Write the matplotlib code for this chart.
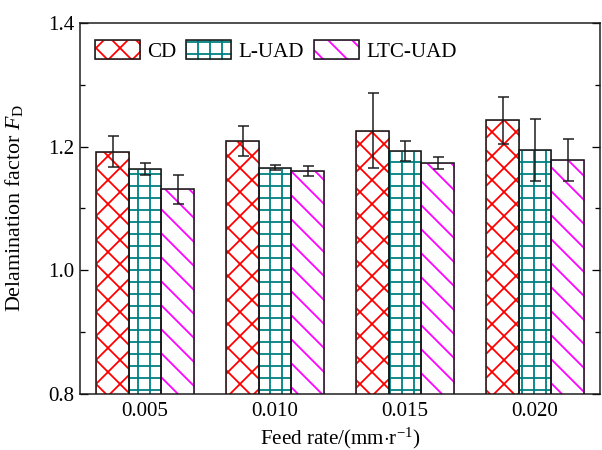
"""
Delamination factor vs feed rate for CD, L-UAD and LTC-UAD drilling.
"""

import matplotlib

matplotlib.use("Agg")

import matplotlib.pyplot as plt
import numpy as np
from matplotlib.legend_handler import HandlerTuple
from matplotlib.patches import Patch
from matplotlib.ticker import MultipleLocator

feed_rates = ["0.005", "0.010", "0.015", "0.020"]
methods = ["CD", "L-UAD", "LTC-UAD"]

cd_mean = [1.192, 1.209, 1.226, 1.243]
cd_err = [0.025, 0.024, 0.061, 0.038]
luad_mean = [1.164, 1.166, 1.193, 1.194]
luad_err = [0.010, 0.004, 0.016, 0.050]
ltc_mean = [1.131, 1.161, 1.174, 1.178]
ltc_err = [0.023, 0.008, 0.010, 0.034]

plt.rcParams["font.family"] = ["Liberation Serif", "DejaVu Serif"]
plt.rcParams["mathtext.fontset"] = "custom"
plt.rcParams["mathtext.rm"] = "Liberation Serif"
plt.rcParams["mathtext.it"] = "Liberation Serif:italic"
plt.rcParams["hatch.linewidth"] = 1.8

FS = 21
DPI = 72  # hatch tile is one inch, 72 px gives ~12 px spacing like the reference
fig = plt.figure(figsize=(602 / DPI, 450 / DPI), dpi=DPI)
ax = fig.add_axes([80 / 602, 56 / 450, 520 / 602, 371 / 450])

series = [
    (cd_mean, cd_err, "#ff0000", "x"),
    (luad_mean, luad_err, "#008080", "+"),
    (ltc_mean, ltc_err, "#ff00ff", "\\"),
]
width = 0.25
x = np.arange(len(feed_rates))
handles = []
for k, (mean, err, color, hatch) in enumerate(series):
    pos = x + (k - 1) * width
    ax.bar(pos, mean, width, color="white", edgecolor=color, hatch=hatch, linewidth=0.5, zorder=2)
    ax.bar(pos, mean, width, fill=False, edgecolor="#1a1a1a", linewidth=1.6, zorder=3)
    ax.errorbar(pos, mean, yerr=err, fmt="none", ecolor="#1a1a1a", elinewidth=1.5,
                capsize=5.5, capthick=1.5, zorder=4)
    handles.append((Patch(facecolor="white", edgecolor=color, hatch=hatch, linewidth=0.5),
                    Patch(fill=False, edgecolor="#1a1a1a", linewidth=1.6)))

ax.legend(handles, methods, handler_map={tuple: HandlerTuple(ndivide=1, pad=0)},
          loc="upper left", bbox_to_anchor=(15 / 520, 1 - 17 / 371), borderaxespad=0,
          borderpad=0, frameon=False, ncol=3, fontsize=FS, handlelength=2.15,
          handleheight=1.05, handletextpad=0.35, columnspacing=0.45)

ax.set_xlim(-0.5, 3.5)
ax.set_ylim(0.8, 1.4)
ax.set_xticks(x)
ax.set_xticklabels(feed_rates)
ax.tick_params(axis="x", length=0, labelsize=FS, pad=8)
ax.yaxis.set_major_locator(MultipleLocator(0.2))
ax.yaxis.set_minor_locator(MultipleLocator(0.1))
ax.yaxis.set_major_formatter(lambda v, p: f"{v:.1f}")
ax.tick_params(axis="y", which="both", direction="in", right=True, labelsize=FS, width=1.3, pad=6)
ax.tick_params(axis="y", which="major", length=8)
ax.tick_params(axis="y", which="minor", length=5)
for s in ax.spines.values():
    s.set_linewidth(1.5)
    s.set_color("#1a1a1a")

ax.set_ylabel(r"Delamination factor $F_\mathrm{D}$", fontsize=22)
ax.yaxis.set_label_coords(-55 / 520, 0.5)
ax.set_xlabel(r"Feed rate/(mm$\cdot$r$^{-1}$)", fontsize=FS, labelpad=5)

fig.savefig("out.png", dpi=DPI)
